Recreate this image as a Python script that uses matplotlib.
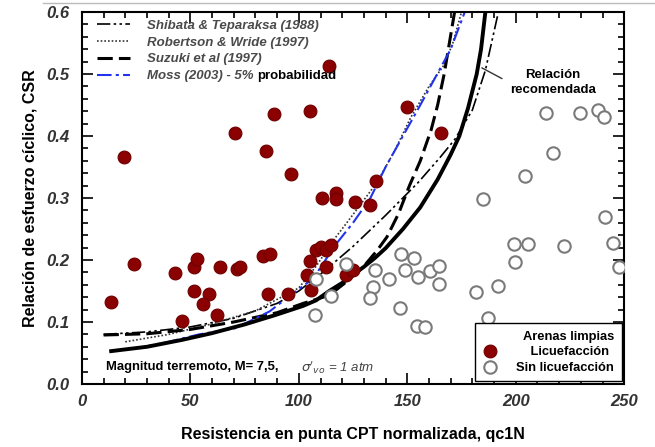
import matplotlib
matplotlib.use("Agg")
import matplotlib.pyplot as plt
from matplotlib.lines import Line2D
from matplotlib.ticker import MultipleLocator

plt.rcParams['font.family'] = ['Liberation Sans', 'DejaVu Sans']

# casos con licuefaccion (qc1N, CSR)
liq_x = [13.5, 19.5, 24, 43, 46, 51.6, 53, 51.6, 58.6, 55.8, 62.3, 63.7, 71.6, 73,
         83.3, 86.5, 86, 70.7, 85, 114, 150, 165.6, 88.4, 105, 96.3, 135.8, 110.7,
         117, 117, 126, 133, 108, 110, 112.6, 115, 105, 112.6, 103.7, 105.6, 95,
         121.9, 125]
liq_y = [0.132, 0.366, 0.194, 0.179, 0.102, 0.189, 0.202, 0.150, 0.145, 0.129, 0.111,
         0.189, 0.185, 0.189, 0.206, 0.210, 0.145, 0.405, 0.376, 0.513, 0.447, 0.405,
         0.435, 0.440, 0.339, 0.327, 0.300, 0.308, 0.298, 0.294, 0.289, 0.216, 0.221,
         0.216, 0.224, 0.198, 0.189, 0.176, 0.152, 0.145, 0.176, 0.184]

# casos sin licuefaccion
noliq_x = [147, 153, 149, 135.3, 141.4, 155, 160.5, 164.7, 164.7, 134, 133, 146.5,
           107.4, 115, 121.9, 108, 154.4, 158, 214, 229.8, 237.7, 240.5, 217.2, 204.2,
           185.1, 241, 199, 205.6, 222.3, 245, 199.5, 247.4, 181.8, 192, 187]
noliq_y = [0.210, 0.203, 0.184, 0.184, 0.169, 0.173, 0.182, 0.190, 0.161, 0.156, 0.139,
           0.122, 0.111, 0.142, 0.193, 0.169, 0.094, 0.092, 0.437, 0.437, 0.442, 0.431,
           0.373, 0.336, 0.298, 0.270, 0.226, 0.226, 0.223, 0.227, 0.197, 0.189, 0.149,
           0.158, 0.106]

# curvas
shibata_x = [10, 30, 50, 70, 90, 100, 111, 125, 140, 155, 165, 172, 180, 186, 192]
shibata_y = [0.080, 0.084, 0.092, 0.106, 0.130, 0.150, 0.180, 0.222, 0.272, 0.325,
             0.365, 0.395, 0.442, 0.506, 0.600]

robertson_x = [20, 40, 60, 80, 100, 108, 116, 126, 136, 144, 151.6, 160, 167, 171, 175]
robertson_y = [0.068, 0.080, 0.097, 0.118, 0.155, 0.190, 0.232, 0.278, 0.325, 0.375,
               0.430, 0.480, 0.515, 0.550, 0.600]

suzuki_x = [10, 30, 50, 70, 90, 102, 114, 122, 130, 136, 140.6, 146, 151, 156, 161,
            164, 167, 171.8]
suzuki_y = [0.079, 0.081, 0.088, 0.100, 0.115, 0.130, 0.143, 0.165, 0.190, 0.215,
            0.237, 0.275, 0.320, 0.360, 0.410, 0.450, 0.500, 0.600]

moss_x = [26, 40, 54, 70.8, 86.5, 95, 106.6, 117, 125, 133, 140, 148, 156, 163, 170, 176.5]
moss_y = [0.058, 0.068, 0.080, 0.090, 0.117, 0.140, 0.170, 0.225, 0.260, 0.300, 0.350,
          0.400, 0.450, 0.495, 0.540, 0.600]

rec_x = [13.5, 30, 46, 60, 75, 89, 102, 108, 114, 120, 125, 130, 135, 140, 148, 156,
         164, 170, 174, 178, 182, 184, 186]
rec_y = [0.053, 0.060, 0.071, 0.082, 0.096, 0.111, 0.126, 0.135, 0.150, 0.163, 0.176,
         0.189, 0.203, 0.219, 0.250, 0.285, 0.330, 0.370, 0.400, 0.445, 0.500, 0.540,
         0.600]

fig = plt.figure(figsize=(6.55, 4.47), dpi=100)
ax = fig.add_axes([0.125, 0.141, 0.828, 0.832])

l1, = ax.plot(shibata_x, shibata_y, color='black', lw=1.2, dashes=(8, 2, 1.5, 2, 1.5, 2))
l2, = ax.plot(robertson_x, robertson_y, color='#333333', lw=1.2, dashes=(1, 1.2))
l3, = ax.plot(suzuki_x, suzuki_y, color='black', lw=2.2, dashes=(5, 2))
l4, = ax.plot(moss_x, moss_y, color='#2233ee', lw=1.5, dashes=(7, 2, 1.5, 2))
ax.plot(rec_x, rec_y, color='black', lw=2.8)

p1 = ax.scatter(liq_x, liq_y, s=85, color='#8b0000', edgecolors='#6e0000',
                linewidths=0.8, zorder=3)
p2 = ax.scatter(noliq_x, noliq_y, s=80, facecolors='white', edgecolors='#7a7a7a',
                linewidths=1.5, zorder=3)

ax.set_xlim(0, 250)
ax.set_ylim(0, 0.6)
ax.xaxis.set_major_locator(MultipleLocator(50))
ax.xaxis.set_minor_locator(MultipleLocator(10))
ax.yaxis.set_major_locator(MultipleLocator(0.1))
ax.yaxis.set_minor_locator(MultipleLocator(0.02))
ax.yaxis.set_major_formatter(matplotlib.ticker.FormatStrFormatter('%.1f'))
ax.tick_params(which='both', direction='in', top=True, right=True, width=1.2)
ax.tick_params(which='major', length=8)
ax.tick_params(which='minor', length=4)
ax.tick_params(axis='y', pad=9)
ax.tick_params(axis='x', pad=7)
for lab in ax.get_xticklabels() + ax.get_yticklabels():
    lab.set_fontsize(12)
    lab.set_fontstyle('italic')
    lab.set_fontweight('bold')
    lab.set_color('#333333')
for sp in ax.spines.values():
    sp.set_linewidth(1.5)

ax.set_xlabel('Resistencia en punta CPT normalizada, qc1N', fontsize=11.5,
              fontweight='bold', labelpad=13)
ax.set_ylabel('Relación de esfuerzo cíclico, CSR', fontsize=11.5,
              fontweight='bold', labelpad=6)

leg1 = ax.legend([l1, l2, l3, l4],
                 ['Shibata & Teparaksa (1988)', 'Robertson & Wride (1997)',
                  'Suzuki et al (1997)', 'Moss (2003) - 5%'],
                 loc='upper left', bbox_to_anchor=(0.01, 1.005), frameon=False,
                 handlelength=2.5, handletextpad=1.3, labelspacing=0.35,
                 prop={'size': 9.5, 'style': 'italic', 'weight': 'bold'},
                 labelcolor='#4a4a4a', borderaxespad=0.3)
ax.add_artist(leg1)

leg2 = ax.legend([p1, p2], ['    Licuefacción', 'Sin licuefacción'],
                 title='Arenas limpias', loc='lower right', fancybox=False,
                 edgecolor='black', framealpha=1, handletextpad=1.4,
                 labelspacing=0.3, borderaxespad=0.2, borderpad=0.6,
                 handlelength=1.2,
                 prop={'size': 9.3, 'weight': 'bold'},
                 title_fontproperties={'size': 9.3, 'weight': 'bold'})
leg2.get_frame().set_linewidth(1.0)
leg2._legend_box.align = 'right'
leg2._legend_box.sep = 2

ax.annotate('Relación\nrecomendada', xy=(184.4, 0.51), xytext=(217, 0.486),
            ha='center', va='center', fontsize=9.5, fontweight='bold',
            linespacing=1.3,
            arrowprops=dict(arrowstyle='-', color='#333333', lw=1,
                            relpos=(0, 0.5), shrinkA=4, shrinkB=0))

ax.text(11, 0.027, 'Magnitud terremoto, M= 7,5,', fontsize=9.4, fontweight='bold',
        va='center')
ax.text(101, 0.027, r"$\sigma'_{vo}$ = 1 atm", fontsize=9.5, fontstyle='italic',
        color='#444444', va='center')

# "probabilidad" pegado a la ultima entrada de la leyenda
fig.canvas.draw()
bb = leg1.get_texts()[-1].get_window_extent()
x_fig, y_fig = fig.transFigure.inverted().transform((bb.x1 + 4, (bb.y0 + bb.y1) / 2))
fig.text(x_fig, y_fig, 'probabilidad', fontsize=9.5, fontweight='bold', va='center')

fig.add_artist(Line2D([0.065, 1.0], [0.994, 0.994], color='#bbbbbb', lw=1))

fig.savefig('out.png', dpi=100)
